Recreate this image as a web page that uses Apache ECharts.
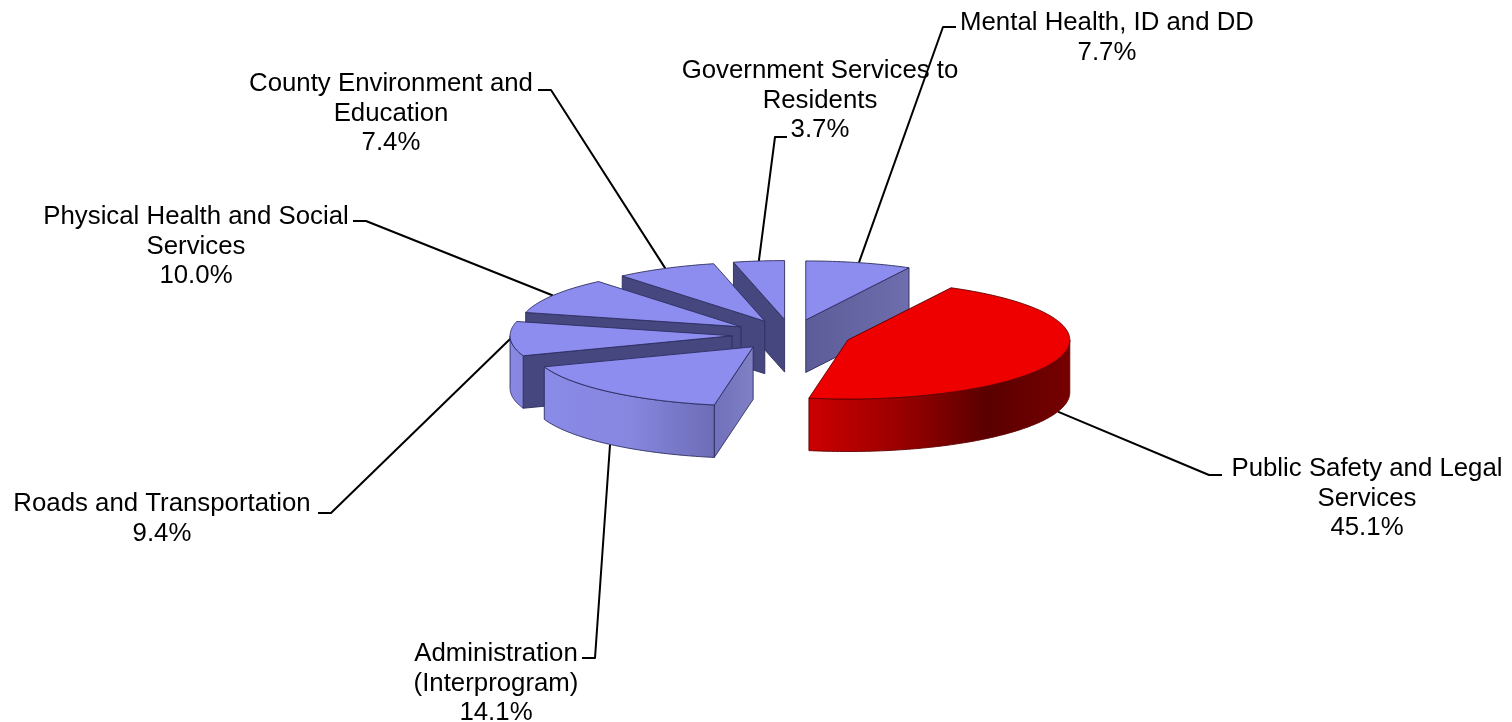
<!DOCTYPE html>
<html><head><meta charset="utf-8">
<style>html,body{margin:0;padding:0;background:#fff}#c{width:1512px;height:722px}</style>
<script src="https://cdn.jsdelivr.net/npm/echarts@6/dist/echarts.min.js"></script>
</head><body><div id="c"></div>
<script>
// Data, clockwise from 12 o'clock
const categories = ['Mental Health, ID and DD','Public Safety and Legal\nServices','Administration\n(Interprogram)','Roads and Transportation','Physical Health and Social\nServices','County Environment and\nEducation','Government Services to\nResidents'];
const sliceShares = [7.7,45.1,16.7,9.4,10.0,7.4,3.7];   // share of the circle each slice actually occupies in the picture
const percentLabels = ['7.7%','45.1%','14.1%','9.4%','10.0%','7.4%','3.7%']; // as printed
const paintOrder = [6,5,4,3,0,2,1];

// Layout and styling
const geo = {cx:791.5,cy:335,a:222,b:59,ea:59.5,eb:15.5,depth:52.5};
const labelCenter = [[1107,8],[1367,454],[496,639],[162,489],[196,202],[391,69],[820,56]];
const leaderElbow = [[943,27],[1209,475],[595,658],[331,513],[366,221],[551,90],[775,137]];
const stubEnd = [[956,27],[1222,475],[582,658],[318,513],[353,221],[538,90],[787,137]];
const grad = (stops)=>new echarts.graphic.LinearGradient(0,0,1,0,stops.map(([offset,color])=>({offset,color})));
const blueTop='#8d8df0', redTop='#ee0000', dark='#474780';
const topFill=[blueTop,redTop,blueTop,blueTop,blueTop,blueTop,blueTop];
const edge=['#2c2c60','#600000','#2c2c60','#2c2c60','#2c2c60','#2c2c60','#2c2c60'];
const arcFill=[null,grad([[0,'#cc0000'],[.35,'#9a0000'],[.68,'#5a0000'],[1,'#760000']]),grad([[0,'#8a8ae8'],[.5,'#8787e0'],[1,'#6c6cb6']]),grad([[0,'#8a8ae6'],[1,'#8585dc']]),null,null,null];
const cutFill=[grad([[0,'#5c5c98'],[1,'#6e6eae']]),null,grad([[0,'#7070bc'],[1,'#8080c4']]),dark,dark,dark,dark];

const total = sliceShares.reduce((s,v)=>s+v,0);
const rad = d=>d*Math.PI/180;
const bounds=[0]; sliceShares.forEach(v=>bounds.push(bounds[bounds.length-1]+v/total*360));

function renderSlice(params,api){
  const i=api.value(0);
  const s=bounds[i], e=bounds[i+1], mid=(s+e)/2;
  const ax=geo.cx+geo.ea*Math.sin(rad(mid)), ay=geo.cy-geo.eb*Math.cos(rad(mid));
  const P=(t,d=0)=>[ax+geo.a*Math.sin(rad(t)), ay-geo.b*Math.cos(rad(t))+d];
  const arc=(from,to,d=0)=>{const out=[];const n=Math.max(2,Math.ceil((to-from)));for(let k=0;k<=n;k++)out.push(P(from+(to-from)*k/n,d));return out;};
  const line={stroke:edge[i],lineWidth:0.9,lineJoin:'round'};
  const kids=[];
  // cut walls
  const wall=(t)=>({type:'polygon',shape:{points:[[ax,ay],P(t),P(t,geo.depth),[ax,ay+geo.depth]]},style:Object.assign({fill:cutFill[i]},line)});
  if(Math.sin(rad(s))<-1e-6) kids.push(wall(s));
  if(Math.sin(rad(e))>1e-6) kids.push(wall(e));
  // outer wall (front half of the rim only)
  const f=Math.max(s,90), t=Math.min(e,270);
  if(t>f) kids.push({type:'polygon',shape:{points:arc(f,t).concat(arc(f,t,geo.depth).reverse())},style:Object.assign({fill:arcFill[i]},line)});
  // top face
  kids.push({type:'polygon',shape:{points:[[ax,ay]].concat(arc(s,e))},style:Object.assign({fill:topFill[i]},line)});
  // leader line, attached to the rim at the slice's bisector
  const anchor=P(mid,Math.cos(rad(mid))<-0.2?geo.depth:0);
  kids.unshift({type:'polyline',shape:{points:[stubEnd[i],leaderElbow[i],anchor]},style:{stroke:'#000',lineWidth:2,lineJoin:'round',fill:null}});
  // label
  kids.push({type:'text',z2:10,style:{text:categories[i]+'\n'+percentLabels[i],x:labelCenter[i][0],y:labelCenter[i][1],align:'center',verticalAlign:'top',fontFamily:'"Liberation Sans",Arial,sans-serif',fontSize:25.8,lineHeight:29.6,fill:'#000'}});
  return {type:'group',children:kids};
}

const chart=echarts.init(document.getElementById('c'),null,{renderer:'canvas'});
chart.setOption({
  animation:false,
  backgroundColor:'#fff',
  series:[{type:'custom',coordinateSystem:'none',renderItem:renderSlice,clip:false,silent:true,
    encode:{},data:paintOrder.map(i=>[i,sliceShares[i]])}]
});
</script></body></html>
